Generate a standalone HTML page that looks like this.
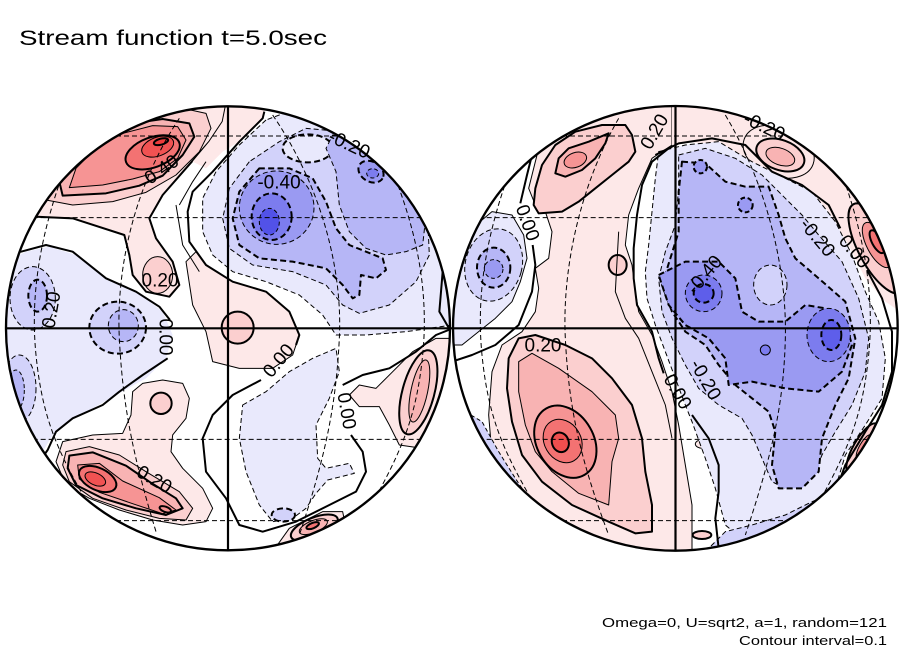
<!DOCTYPE html>
<html><head><meta charset="utf-8"><style>
html,body{margin:0;padding:0;background:#fff;}
svg{display:block;}
.t{font-family:"Liberation Sans",sans-serif;fill:#000;}
.lb{font-family:"Liberation Sans",sans-serif;font-size:19px;fill:#000;text-anchor:middle;dominant-baseline:central;}
</style></head><body>
<svg width="904" height="654" viewBox="0 0 904 654" xmlns="http://www.w3.org/2000/svg">
<defs>
<clipPath id="cl"><circle cx="666" cy="670" r="666"/></clipPath>
<clipPath id="cr"><circle cx="670" cy="670" r="667"/></clipPath>
</defs>
<rect width="904" height="654" fill="#fff"/>

<!-- LEFT HEMISPHERE -->
<g transform="translate(6,105) scale(0.333333)" stroke-linejoin="round">
<g clip-path="url(#cl)">
<rect x="-10" y="-10" width="1360" height="1360" fill="#fff"/>
<!-- pale pinks -->
<polygon fill="#fde8e8" stroke="#000" stroke-width="6" points="0,0 660,0 650,50 610,110 540,190 470,270 430,340 450,400 500,470 520,540 490,575 420,560 380,510 370,450 355,390 200,340 85,335 0,335"/>
<polygon fill="#fde8e8" points="650,50 610,110 560,170 600,190 650,140 700,110 770,40 780,0 660,0"/>
<polygon fill="#fde8e8" stroke="#000" stroke-width="3" points="540,470 560,600 600,680 620,770 700,790 800,790 860,750 880,690 850,620 780,560 680,530 600,480 570,440"/>
<polygon fill="#fde8e8" stroke="#000" stroke-width="3" points="380,860 410,835 470,825 530,835 550,880 540,940 500,990 495,1040 530,1090 590,1150 620,1210 600,1250 530,1260 440,1245 340,1215 250,1180 180,1140 150,1070 170,1010 260,990 350,985 375,930"/>
<polygon fill="#fde8e8" stroke="#000" stroke-width="3" points="1030,870 1060,840 1110,850 1160,800 1220,740 1290,700 1340,700 1340,1000 1250,1030 1180,1020 1150,960 1120,905 1060,905"/>
<polygon fill="#fde8e8" stroke="#000" stroke-width="3" points="800,1340 850,1270 950,1220 1010,1220 1020,1270 980,1310 920,1340"/>
<!-- upper-left red -->
<polygon fill="#fbcfcf" stroke="#000" stroke-width="3" points="120,285 200,300 320,290 420,262 510,210 580,140 615,70 600,25 540,12 440,25 330,60 230,110 160,180 100,260"/>
<polygon fill="#f8b3b3" stroke="#000" stroke-width="6" points="170,272 300,265 400,242 470,212 530,150 565,95 550,55 470,42 380,55 290,90 210,160 160,230"/>
<polygon fill="#f69494" stroke="#000" stroke-width="3" points="190,248 290,240 380,222 460,200 515,160 540,105 515,65 440,62 350,85 270,130 210,190"/>
<ellipse cx="440" cy="142" rx="85" ry="45" transform="rotate(-20 440 142)" fill="#f37272" stroke="#000" stroke-width="6"/>
<ellipse cx="455" cy="125" rx="50" ry="28" transform="rotate(-20 455 125)" fill="#f15252" stroke="#000" stroke-width="3"/>
<ellipse cx="465" cy="110" rx="22" ry="9" transform="rotate(-15 465 110)" fill="#ee3c3c" stroke="#000" stroke-width="6"/>
<!-- small pinks -->
<ellipse cx="455" cy="510" rx="45" ry="55" fill="#fbcfcf" stroke="#000" stroke-width="3"/>
<circle cx="695" cy="668" r="48" fill="#fbcfcf" stroke="#000" stroke-width="6"/>
<circle cx="465" cy="895" r="32" fill="#fbcfcf" stroke="#000" stroke-width="6"/>
<!-- lower-left red -->
<polygon fill="#fbcfcf" stroke="#000" stroke-width="3" points="180,1040 250,1025 340,1050 420,1100 520,1160 560,1210 540,1245 460,1240 360,1215 260,1180 190,1130 170,1080"/>
<polygon fill="#f8b3b3" stroke="#000" stroke-width="6" points="190,1052 260,1042 360,1082 430,1130 510,1180 530,1210 480,1230 390,1210 290,1180 210,1140 185,1090"/>
<polygon fill="#f69494" stroke="#000" stroke-width="3" points="215,1080 280,1075 350,1128 460,1178 510,1215 470,1226 380,1196 280,1162 220,1122"/>
<ellipse cx="275" cy="1122" rx="60" ry="33" transform="rotate(25 275 1122)" fill="#f37272" stroke="#000" stroke-width="6"/>
<ellipse cx="268" cy="1122" rx="33" ry="18" transform="rotate(25 268 1122)" fill="#f15252" stroke="#000" stroke-width="3"/>
<ellipse cx="478" cy="1213" rx="18" ry="8" transform="rotate(20 478 1213)" fill="#f69494" stroke="#000" stroke-width="6"/>
<!-- bottom red -->
<ellipse cx="925" cy="1268" rx="75" ry="30" transform="rotate(-22 925 1268)" fill="#fbcfcf" stroke="#000" stroke-width="6"/>
<ellipse cx="922" cy="1265" rx="45" ry="18" transform="rotate(-22 922 1265)" fill="#f8b3b3" stroke="#000" stroke-width="3"/>
<ellipse cx="920" cy="1262" rx="20" ry="8" transform="rotate(-22 920 1262)" fill="#f37272" stroke="#000" stroke-width="6"/>
<!-- right red -->
<ellipse cx="1237" cy="862" rx="48" ry="130" transform="rotate(15 1237 862)" fill="#fbcfcf" stroke="#000" stroke-width="6"/>
<ellipse cx="1240" cy="858" rx="25" ry="95" transform="rotate(12 1240 858)" fill="#f8b3b3" stroke="#000" stroke-width="3"/>
<!-- blues upper right -->
<polygon fill="#e9e9fc" stroke="#000" stroke-width="3" stroke-dasharray="15 9" points="780,45 700,120 630,200 590,280 590,380 620,450 680,500 780,530 880,570 950,630 990,690 1080,690 1200,680 1340,660 1340,0 900,0"/>
<polygon fill="#d2d2fa" stroke="#000" stroke-width="3" stroke-dasharray="15 9" points="730,170 670,250 650,340 670,430 740,480 860,500 960,540 1010,600 1060,625 1150,600 1230,530 1270,450 1265,340 1240,270 1190,200 1110,130 1010,80 900,70 820,110"/>
<ellipse cx="905" cy="130" rx="75" ry="42" fill="#e9e9fc" stroke="#000" stroke-width="6" stroke-dasharray="18 10"/>
<polygon fill="#b6b6f6" stroke="#000" stroke-width="6" stroke-dasharray="18 10" points="760,190 700,260 680,340 700,420 760,460 860,470 960,490 1010,540 1040,580 1060,570 1065,510 1110,520 1140,495 1130,460 1080,440 1030,420 990,370 960,290 920,220 850,190"/>
<polygon fill="#b6b6f6" stroke="#000" stroke-width="3" stroke-dasharray="15 9" points="980,90 1060,110 1150,160 1220,230 1260,330 1250,420 1200,440 1140,450 1080,430 1030,380 1000,300 990,200 960,130"/>
<ellipse cx="812" cy="308" rx="112" ry="110" fill="#9a9af2" stroke="#000" stroke-width="3" stroke-dasharray="15 9"/>
<ellipse cx="1095" cy="200" rx="40" ry="30" transform="rotate(30 1095 200)" fill="#9a9af2" stroke="#000" stroke-width="6" stroke-dasharray="18 10"/>
<ellipse cx="1100" cy="205" rx="18" ry="14" fill="#7c7cee" stroke="#000" stroke-width="3" stroke-dasharray="12 8"/>
<ellipse cx="797" cy="335" rx="60" ry="70" fill="#7c7cee" stroke="#000" stroke-width="6" stroke-dasharray="18 10"/>
<ellipse cx="790" cy="350" rx="30" ry="40" fill="#5252e8" stroke="#000" stroke-width="3" stroke-dasharray="12 8"/>
<!-- left blues -->
<polygon fill="#e9e9fc" points="0,470 60,440 130,425 210,450 300,520 400,565 470,620 500,690 480,760 420,820 330,870 260,910 190,945 140,990 110,1040 0,1040"/>
<ellipse cx="80" cy="580" rx="68" ry="95" fill="#d2d2fa" stroke="#000" stroke-width="3" stroke-dasharray="15 9"/>
<ellipse cx="95" cy="572" rx="28" ry="48" fill="#b6b6f6" stroke="#000" stroke-width="6" stroke-dasharray="18 10"/>
<ellipse cx="40" cy="850" rx="50" ry="100" fill="#d2d2fa" stroke="#000" stroke-width="3" stroke-dasharray="15 9"/>
<ellipse cx="30" cy="855" rx="25" ry="60" fill="#b6b6f6" stroke="#000" stroke-width="3" stroke-dasharray="12 8"/>
<ellipse cx="335" cy="668" rx="85" ry="78" fill="#d2d2fa" stroke="#000" stroke-width="6" stroke-dasharray="18 10"/>
<ellipse cx="352" cy="662" rx="45" ry="48" fill="#b6b6f6" stroke="#000" stroke-width="3" stroke-dasharray="15 9"/>
<!-- lower center pale blue -->
<polygon fill="#e9e9fc" stroke="#000" stroke-width="3" stroke-dasharray="15 9" points="710,900 780,860 850,800 920,760 990,730 1000,800 970,880 930,960 935,1060 960,1090 1030,1075 1045,1105 965,1125 930,1165 900,1210 860,1240 800,1250 760,1200 720,1100 700,1000"/>
<ellipse cx="832" cy="1230" rx="35" ry="20" fill="#d2d2fa" stroke="#000" stroke-width="6" stroke-dasharray="18 10"/>
<!-- zero lines -->
<polyline fill="none" stroke="#000" stroke-width="6" points="0,445 45,440 120,420 200,440 300,520 390,560 460,605 492,645"/>
<polyline fill="none" stroke="#000" stroke-width="6" points="485,760 410,810 340,860 290,900 200,940 150,980 125,1035 100,1070"/>
<polyline fill="none" stroke="#000" stroke-width="6" points="775,20 770,40 700,110 620,200 560,260 545,320 550,410 600,480 680,530 780,560 850,620 880,690 870,720"/>
<polyline fill="none" stroke="#000" stroke-width="6" points="765,825 680,870 620,930 590,1000 600,1100 660,1180 700,1260 770,1280 870,1250 970,1200 1050,1160 1080,1100 1070,1040 1035,990"/>
<polyline fill="none" stroke="#000" stroke-width="6" points="1010,840 1070,810 1150,790 1230,740 1290,690 1340,670"/>
<polyline fill="none" stroke="#000" stroke-width="6" points="1180,180 1240,270 1285,380 1310,500 1300,620 1335,680"/>
<polyline fill="none" stroke="#000" stroke-width="3" points="510,300 530,420 580,500"/>
<polyline fill="none" stroke="#000" stroke-width="3" points="600,170 560,230 520,300"/>
<!-- grid -->
<g fill="none" stroke="#000" stroke-width="3" stroke-dasharray="15 9">
<line x1="80" y1="338" x2="1250" y2="338"/>
<line x1="80" y1="1003" x2="1250" y2="1003"/>
<line x1="330" y1="93" x2="1000" y2="93"/>
<line x1="330" y1="1247" x2="1000" y2="1247"/>
<path d="M520,40 C380,250 330,500 340,700 S380,1050 450,1280"/>
<path d="M800,30 C950,250 1010,500 1000,700 S960,1050 880,1290"/>
<path d="M200,130 C110,350 70,550 90,750 S160,1050 260,1220"/>
<path d="M1130,130 C1230,350 1270,550 1250,750 S1180,1050 1080,1230"/>
</g>
</g>
<circle cx="666" cy="670" r="666" fill="none" stroke="#000" stroke-width="7"/>
</g>

<!-- RIGHT HEMISPHERE -->
<g transform="translate(452,105) scale(0.333333)" stroke-linejoin="round">
<g clip-path="url(#cr)">
<rect x="-10" y="-10" width="1360" height="1360" fill="#fff"/>
<polygon fill="#fde8e8" stroke="#000" stroke-width="3" points="230,250 260,130 330,60 450,20 600,5 660,5 660,120 600,160 560,250 530,330 520,420 540,480 550,560 560,620 600,690 630,770 660,860 680,960 700,1080 720,1200 720,1340 300,1340 200,1250 150,1150 120,1050 110,930 120,800 150,720 210,680 250,620 260,550 250,490 290,460 300,380 280,320 250,300"/>
<polygon fill="#fde8e8" points="660,0 1100,0 1150,180 1250,280 1320,420 1345,560 1345,620 1300,590 1240,520 1190,420 1130,320 1060,250 980,210 880,190 800,120 700,110 660,120"/>
<polygon fill="#fbcfcf" stroke="#000" stroke-width="6" points="245,300 250,250 270,180 310,120 370,80 450,60 520,60 540,90 550,140 530,170 480,210 430,250 380,290 330,320 260,325"/>
<polygon fill="#f8b3b3" stroke="#000" stroke-width="6" points="310,205 320,160 350,130 410,110 470,85 460,115 430,160 390,195 340,215"/>
<ellipse cx="370" cy="165" rx="35" ry="22" transform="rotate(-20 370 165)" fill="#f69494" stroke="#000" stroke-width="3"/>
<ellipse cx="980" cy="140" rx="110" ry="75" transform="rotate(20 980 140)" fill="#fde8e8" stroke="#000" stroke-width="3"/>
<ellipse cx="985" cy="150" rx="75" ry="45" transform="rotate(20 985 150)" fill="#fbcfcf" stroke="#000" stroke-width="6"/>
<ellipse cx="985" cy="155" rx="45" ry="25" transform="rotate(20 985 155)" fill="#f8b3b3" stroke="#000" stroke-width="3"/>
<ellipse cx="1275" cy="430" rx="55" ry="150" transform="rotate(-28 1275 430)" fill="#fbcfcf" stroke="#000" stroke-width="6"/>
<ellipse cx="1275" cy="420" rx="30" ry="75" transform="rotate(-28 1275 420)" fill="#f69494" stroke="#000" stroke-width="3"/>
<ellipse cx="1275" cy="410" rx="15" ry="38" transform="rotate(-28 1275 410)" fill="#f37272" stroke="#000" stroke-width="6"/>
<polygon fill="#fbcfcf" stroke="#000" stroke-width="6" points="170,760 200,700 250,690 340,720 420,760 480,820 540,900 570,1000 580,1100 600,1200 600,1280 550,1285 470,1250 360,1200 270,1130 210,1050 180,950 165,850"/>
<polygon fill="#f8b3b3" stroke="#000" stroke-width="3" points="200,770 240,745 320,790 420,860 490,930 500,1000 480,1070 470,1200 380,1165 300,1100 250,1040 220,960 200,860"/>
<ellipse cx="340" cy="1010" rx="85" ry="115" transform="rotate(-30 340 1010)" fill="#f69494" stroke="#000" stroke-width="6"/>
<ellipse cx="332" cy="1008" rx="55" ry="68" transform="rotate(-30 332 1008)" fill="#f37272" stroke="#000" stroke-width="3"/>
<ellipse cx="325" cy="1012" rx="25" ry="30" transform="rotate(-20 325 1012)" fill="#f04e4e" stroke="#000" stroke-width="6"/>
<ellipse cx="497" cy="480" rx="27" ry="30" fill="#fbcfcf" stroke="#000" stroke-width="6"/>
<ellipse cx="752" cy="1017" rx="22" ry="13" fill="#fde8e8" stroke="#000" stroke-width="3"/>
<ellipse cx="750" cy="1290" rx="28" ry="12" fill="#fbcfcf" stroke="#000" stroke-width="6"/>
<ellipse cx="1232" cy="1030" rx="28" ry="85" transform="rotate(30 1232 1030)" fill="#fbcfcf" stroke="#000" stroke-width="6"/>
<ellipse cx="1235" cy="1025" rx="12" ry="40" transform="rotate(30 1235 1025)" fill="#f69494" stroke="#000" stroke-width="3"/>
<!-- blues -->
<polygon fill="#e9e9fc" stroke="#000" stroke-width="3" stroke-dasharray="15 9" points="620,140 700,120 800,110 900,170 1000,220 1080,260 1150,350 1200,450 1240,560 1280,650 1300,760 1290,880 1240,960 1180,1050 1150,1150 1100,1220 1050,1260 950,1300 880,1310 820,1260 790,1150 760,1060 720,950 700,900 670,820 640,740 610,660 585,580 580,500 590,420 600,320 610,220"/>
<polygon fill="#d2d2fa" stroke="#000" stroke-width="3" stroke-dasharray="15 9" points="680,150 760,130 850,160 930,210 1000,280 1050,330 1100,390 1170,470 1220,580 1250,700 1240,800 1200,900 1150,980 1110,1050 1080,1120 1000,1150 960,1130 930,1060 900,990 870,940 800,900 740,850 700,780 660,700 630,620 620,520 640,440 670,360 680,250"/>
<polygon fill="#b6b6f6" stroke="#000" stroke-width="6" stroke-dasharray="18 10" points="690,170 760,175 820,230 880,245 950,245 980,330 1000,400 1030,460 1100,520 1180,590 1210,700 1190,820 1150,900 1110,1000 1100,1100 1050,1150 980,1150 960,1080 970,980 950,920 900,880 850,840 800,780 760,720 700,680 660,620 630,540 655,460 680,380 680,260"/>
<ellipse cx="955" cy="540" rx="50" ry="60" fill="#d2d2fa" stroke="#000" stroke-width="3" stroke-dasharray="15 9"/>
<polygon fill="#9a9af2" stroke="#000" stroke-width="6" stroke-dasharray="18 10" points="620,510 700,470 800,470 850,520 870,620 920,650 1000,650 1060,600 1120,610 1180,650 1200,720 1170,800 1100,860 1000,850 900,830 830,840 820,760 770,700 700,660 650,600"/>
<ellipse cx="755" cy="565" rx="55" ry="55" fill="#7c7cee" stroke="#000" stroke-width="3" stroke-dasharray="15 9"/>
<ellipse cx="1130" cy="690" rx="65" ry="80" fill="#7c7cee" stroke="#000" stroke-width="3" stroke-dasharray="15 9"/>
<ellipse cx="755" cy="565" rx="30" ry="28" fill="#5e5eea" stroke="#000" stroke-width="6" stroke-dasharray="18 10"/>
<ellipse cx="1138" cy="690" rx="30" ry="45" fill="#5e5eea" stroke="#000" stroke-width="6" stroke-dasharray="18 10"/>
<circle cx="745" cy="185" r="20" fill="#9a9af2" stroke="#000" stroke-width="6" stroke-dasharray="14 8"/>
<circle cx="880" cy="300" r="22" fill="#9a9af2" stroke="#000" stroke-width="6" stroke-dasharray="14 8"/>
<circle cx="940" cy="735" r="15" fill="#7c7cee" stroke="#000" stroke-width="3"/>
<!-- left-edge blue -->
<polygon fill="#e9e9fc" stroke="#000" stroke-width="3" points="0,380 60,370 120,320 180,330 215,390 225,460 205,530 180,590 130,640 80,680 30,720 0,720"/>
<ellipse cx="125" cy="480" rx="85" ry="110" transform="rotate(15 125 480)" fill="#d2d2fa" stroke="#000" stroke-width="3" stroke-dasharray="15 9"/>
<ellipse cx="125" cy="488" rx="50" ry="60" fill="#b6b6f6" stroke="#000" stroke-width="6" stroke-dasharray="18 10"/>
<ellipse cx="125" cy="492" rx="28" ry="28" fill="#9a9af2" stroke="#000" stroke-width="3" stroke-dasharray="12 8"/>
<!-- bottom edge blue -->
<polygon fill="#d2d2fa" stroke="#000" stroke-width="3" stroke-dasharray="15 9" points="760,1340 820,1280 900,1260 1000,1230 1080,1190 1130,1170 1120,1250 1040,1310 950,1345"/>
<polygon fill="#b6b6f6" stroke="#000" stroke-width="3" stroke-dasharray="12 8" points="880,1345 950,1300 1050,1260 1100,1230 1080,1290 1000,1340"/>
<polygon fill="#d2d2fa" stroke="#000" stroke-width="3" stroke-dasharray="12 8" points="40,920 90,950 140,1040 190,1120 230,1180 200,1195 130,1120 70,1040"/>
<!-- zero lines -->
<polyline fill="none" stroke="#000" stroke-width="6" points="650,130 600,170 570,240 555,330 545,430 545,520 555,600 600,680 620,760 635,805"/>
<polyline fill="none" stroke="#000" stroke-width="6" points="720,930 770,1000 800,1080 800,1160 790,1240 800,1330"/>
<polyline fill="none" stroke="#000" stroke-width="6" points="610,150 680,115 780,100 880,120 960,200 1050,240 1130,300 1165,370"/>
<polyline fill="none" stroke="#000" stroke-width="6" points="1245,495 1290,580 1320,680 1320,800 1290,900 1240,980 1180,1080 1150,1160 1100,1230"/>
<polyline fill="none" stroke="#000" stroke-width="6" points="0,770 60,750 130,720 200,660 240,560 250,480 242,420"/>
<polyline fill="none" stroke="#000" stroke-width="6" points="205,295 225,210 245,130 280,70 330,40"/>
<polyline fill="none" stroke="#000" stroke-width="3" points="500,380 490,560 520,640 560,700 600,800 640,900 660,1000"/>
<!-- grid -->
<g fill="none" stroke="#000" stroke-width="3" stroke-dasharray="15 9">
<line x1="80" y1="338" x2="1260" y2="338"/>
<line x1="80" y1="1003" x2="1260" y2="1003"/>
<line x1="330" y1="93" x2="1010" y2="93"/>
<line x1="330" y1="1247" x2="1010" y2="1247"/>
<path d="M500,40 C380,250 330,500 340,700 S380,1050 470,1290"/>
<path d="M820,30 C950,250 1005,500 1000,700 S960,1050 880,1290"/>
<path d="M200,130 C110,350 70,550 90,750 S160,1050 260,1220"/>
<path d="M1140,130 C1230,350 1270,550 1250,750 S1180,1050 1080,1230"/>
</g>
</g>
<circle cx="670" cy="670" r="667" fill="none" stroke="#000" stroke-width="7"/>
</g>

<!-- axes -->
<g stroke="#000" stroke-width="2.2">
<line x1="228" y1="106" x2="228" y2="550"/>
<line x1="675.5" y1="106" x2="675.5" y2="550"/>
<line x1="6" y1="328.3" x2="898" y2="328.3"/>
</g>

<!-- contour labels -->
<g>
<text class="lb" transform="translate(162,170) rotate(-35)">0.40</text>
<text class="lb" transform="translate(279,183)">-0.40</text>
<text class="lb" transform="translate(349,145) rotate(25)">-0.20</text>
<text class="lb" transform="translate(160,281)">0.20</text>
<text class="lb" transform="translate(52,310) rotate(-80)">0.20</text>
<text class="lb" transform="translate(165,337) rotate(90)">0.00</text>
<text class="lb" transform="translate(279,361) rotate(-50)">0.00</text>
<text class="lb" transform="translate(346,411) rotate(80)">0.00</text>
<text class="lb" transform="translate(154,480) rotate(30)">0.20</text>
<text class="lb" transform="translate(655,132) rotate(-60)">0.20</text>
<text class="lb" transform="translate(764,127) rotate(25)">-0.20</text>
<text class="lb" transform="translate(527,223) rotate(70)">0.00</text>
<text class="lb" transform="translate(817,238) rotate(50)">-0.20</text>
<text class="lb" transform="translate(854,252) rotate(50)">0.00</text>
<text class="lb" transform="translate(705,275) rotate(-50)">-0.40</text>
<text class="lb" transform="translate(543,346)">0.20</text>
<text class="lb" transform="translate(705,380) rotate(60)">-0.20</text>
<text class="lb" transform="translate(677,392) rotate(60)">0.00</text>
</g>

<!-- titles -->
<text class="t" x="19" y="45" font-size="21" textLength="308" lengthAdjust="spacingAndGlyphs">Stream function t=5.0sec</text>
<text class="t" x="602" y="627" font-size="12.5" textLength="285" lengthAdjust="spacingAndGlyphs">Omega=0, U=sqrt2, a=1, random=121</text>
<text class="t" x="739" y="645" font-size="12.5" textLength="148" lengthAdjust="spacingAndGlyphs">Contour interval=0.1</text>
</svg>
</body></html>
